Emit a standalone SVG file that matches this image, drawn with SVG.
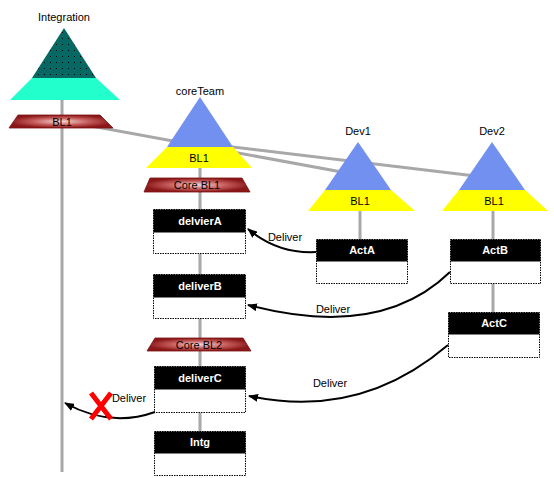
<svg xmlns="http://www.w3.org/2000/svg" width="554" height="478" viewBox="0 0 554 478">
<defs>
<style>
.lbl{font-family:"Liberation Sans",Arial,sans-serif;font-size:11px;fill:#000;text-anchor:middle}
.hdr{font-family:"Liberation Sans",Arial,sans-serif;font-size:11px;font-weight:bold;fill:#fff;text-anchor:middle}
.gl{stroke:#a8a8a8;stroke-width:3;fill:none}
.box{fill:#fff;stroke:#000;stroke-width:1;stroke-dasharray:1.5 1}
.head{fill:#000}
.blue{fill:#7290f0}
.yel{fill:#ffff00}
.trap{fill:url(#rg);stroke:#7a1010;stroke-width:0.8}
.arr{stroke:#000;stroke-width:2;fill:none;marker-end:url(#ah)}
</style>
<radialGradient id="rg" cx="0.5" cy="0.5" r="0.5">
<stop offset="0" stop-color="#f6d8d8"/>
<stop offset="0.55" stop-color="#c45a5a"/>
<stop offset="1" stop-color="#8b1818"/>
</radialGradient>
<pattern id="dots" width="6" height="6" patternUnits="userSpaceOnUse">
<rect width="6" height="6" fill="#076763"/>
<rect x="2" y="2" width="1" height="1" fill="#000"/>
</pattern>
<marker id="ah" markerWidth="10" markerHeight="8" refX="9" refY="4" orient="auto" markerUnits="userSpaceOnUse">
<path d="M0,0 L10,4 L0,8 Z" fill="#000"/>
</marker>
</defs>
<rect width="554" height="478" fill="#fff"/>
<g id="connectors">
<line class="gl" x1="62" y1="99" x2="62" y2="472"/>
<line class="gl" x1="200" y1="168" x2="200" y2="476"/>
<line class="gl" x1="360" y1="211" x2="360" y2="240"/>
<line class="gl" x1="493" y1="211" x2="493" y2="313"/>
<line class="gl" x1="64" y1="121" x2="358" y2="175"/>
<line class="gl" x1="200" y1="143" x2="492" y2="178"/>
</g>
<g id="integration">
<text class="lbl" x="64" y="21">Integration</text>
<polygon points="64,28 96,78 32,78" fill="url(#dots)"/>
<polygon points="32,78 96,78 120,100 10,100" fill="#22ffcc"/>
</g>
<g id="coreTeam">
<text class="lbl" x="200" y="95">coreTeam</text>
<polygon class="blue" points="200,97 233,147 167,147"/>
<polygon class="yel" points="167,147 233,147 252,168 146,168"/>
<text class="lbl" x="199" y="162">BL1</text>
</g>
<g id="dev1">
<text class="lbl" x="358" y="135">Dev1</text>
<polygon class="blue" points="358,142 391,190 325,190"/>
<polygon class="yel" points="325,190 391,190 415,211 308,211"/>
<text class="lbl" x="360" y="205">BL1</text>
</g>
<g id="dev2">
<text class="lbl" x="492" y="135">Dev2</text>
<polygon class="blue" points="492,142 525,190 459,190"/>
<polygon class="yel" points="459,190 525,190 548,211 442,211"/>
<text class="lbl" x="494" y="205">BL1</text>
</g>
<g id="intBL1">
<polygon class="trap" points="18,115 100,115 113,128 9,128"/>
<text class="lbl" x="62" y="126">BL1</text>
</g>
<g id="coreBL1">
<polygon class="trap" points="150,178 242,178 250,192 144,192"/>
<text class="lbl" x="197" y="189">Core BL1</text>
</g>
<g id="coreBL2">
<polygon class="trap" points="155,338 243,338 251,351 147,351"/>
<text class="lbl" x="199" y="349">Core BL2</text>
</g>
<g id="delvierA">
<rect class="box" x="153.5" y="209.5" width="92" height="44"/>
<rect class="head" x="153.5" y="209.5" width="92" height="23"/>
<text class="hdr" x="200" y="225">delvierA</text>
</g>
<g id="deliverB">
<rect class="box" x="153.5" y="274.5" width="92" height="44"/>
<rect class="head" x="153.5" y="274.5" width="92" height="23"/>
<text class="hdr" x="200" y="290">deliverB</text>
</g>
<g id="deliverC">
<rect class="box" x="154.5" y="366.5" width="91" height="46"/>
<rect class="head" x="154.5" y="366.5" width="91" height="23"/>
<text class="hdr" x="200" y="382">deliverC</text>
</g>
<g id="intg">
<rect class="box" x="154.5" y="431.5" width="91" height="44"/>
<rect class="head" x="154.5" y="431.5" width="91" height="22"/>
<text class="hdr" x="200" y="446">Intg</text>
</g>
<g id="actA">
<rect class="box" x="316.5" y="239.5" width="91" height="44"/>
<rect class="head" x="316.5" y="239.5" width="91" height="22"/>
<text class="hdr" x="362" y="254">ActA</text>
</g>
<g id="actB">
<rect class="box" x="450.5" y="239.5" width="90" height="44"/>
<rect class="head" x="450.5" y="239.5" width="90" height="22"/>
<text class="hdr" x="495" y="254">ActB</text>
</g>
<g id="actC">
<rect class="box" x="448.5" y="312.5" width="91" height="45"/>
<rect class="head" x="448.5" y="312.5" width="91" height="22"/>
<text class="hdr" x="494" y="327">ActC</text>
</g>
<g id="delivers">
<path class="arr" d="M316,252 Q278,254 248,229"/>
<text class="lbl" x="285" y="241">Deliver</text>
<path class="arr" d="M450,272 Q380,340 248,305"/>
<text class="lbl" x="333" y="313">Deliver</text>
<path class="arr" d="M448,345 Q360,420 249,396"/>
<text class="lbl" x="330" y="387">Deliver</text>
<path class="arr" d="M155,412 Q110,428 65,403"/>
<text class="lbl" x="129" y="402">Deliver</text>
<path d="M91,393 L111,419 M111,393 L91,419" stroke="#ff0000" stroke-width="5" fill="none"/>
</g>
</svg>
